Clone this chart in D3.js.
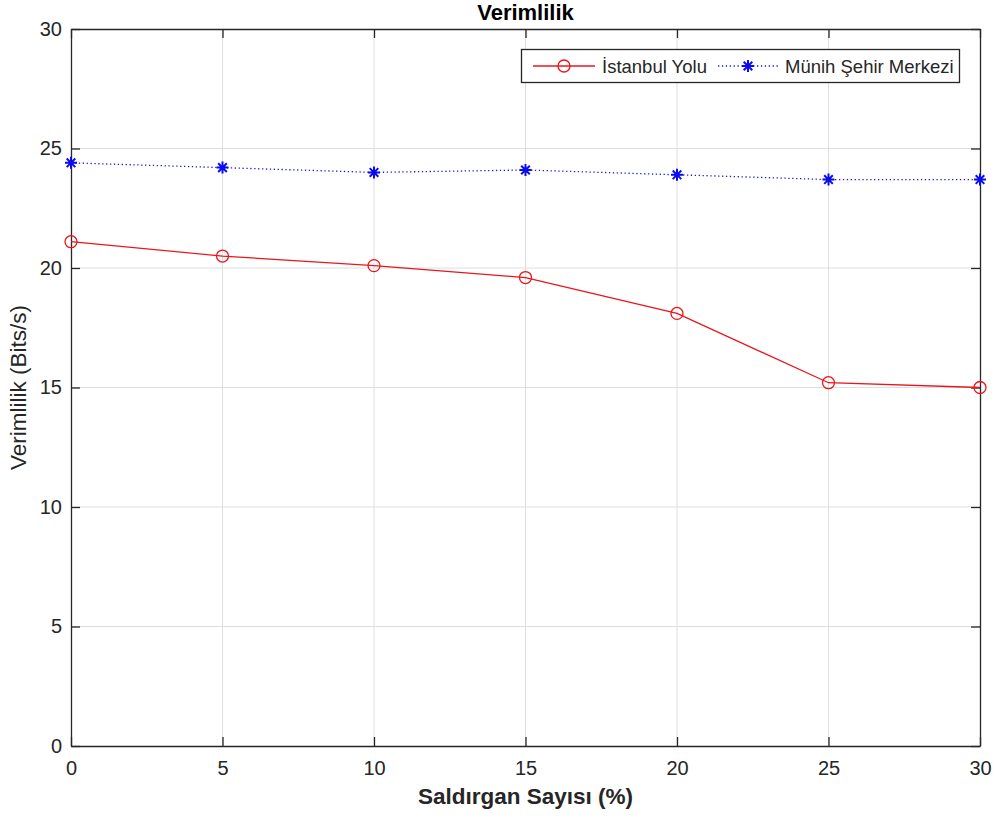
<!DOCTYPE html>
<html>
<head>
<meta charset="utf-8">
<script src="https://cdn.jsdelivr.net/npm/d3@7"></script>
<style>
  body { margin: 0; background: #fff; }
  svg { font-family: "Liberation Sans", Arial, sans-serif; }
</style>
</head>
<body>
<script>
// x values (Saldırgan Sayısı %)
const attackers = [0, 5, 10, 15, 20, 25, 30];
// series values
const istanbulYolu = [21.1, 20.5, 20.1, 19.6, 18.1, 15.2, 15.0];
const munihMerkez = [24.4, 24.2, 24.0, 24.1, 23.9, 23.7, 23.7];
const seriesNames = ["İstanbul Yolu", "Münih Şehir Merkezi"];
const xTicks = [0, 5, 10, 15, 20, 25, 30];
const yTicks = [0, 5, 10, 15, 20, 25, 30];

const width = 1000, height = 823;
const marginLeft = 71, marginRight = 20, marginTop = 29, marginBottom = 77;
const axisColor = "#262626";

const svg = d3.select("body").append("svg")
    .attr("width", width)
    .attr("height", height);

const x = d3.scaleLinear().domain([0, 30]).range([marginLeft, width - marginRight]);
const y = d3.scaleLinear().domain([0, 30]).range([height - marginBottom, marginTop]);

// grid
svg.append("g")
    .attr("stroke", "#dedede")
    .attr("stroke-width", 1)
    .selectAll("line")
    .data(xTicks.slice(1, -1))
    .join("line")
    .attr("x1", d => x(d)).attr("x2", d => x(d))
    .attr("y1", y(0)).attr("y2", y(30));
svg.append("g")
    .attr("stroke", "#dedede")
    .attr("stroke-width", 1)
    .selectAll("line")
    .data(yTicks.slice(1, -1))
    .join("line")
    .attr("y1", d => y(d)).attr("y2", d => y(d))
    .attr("x1", x(0)).attr("x2", x(30));

// axes with inward ticks (all four sides)
function styleAxis(g) {
    g.select(".domain").attr("stroke", axisColor).attr("stroke-width", 1.3);
    g.selectAll(".tick line").attr("stroke", axisColor).attr("stroke-width", 1.3);
    g.selectAll(".tick text").attr("fill", axisColor).attr("font-size", 20);
}
svg.append("g")
    .attr("transform", `translate(0,${y(0)})`)
    .call(d3.axisBottom(x).tickValues(xTicks).tickSize(-9).tickPadding(15).tickSizeOuter(0))
    .call(styleAxis);
svg.append("g")
    .attr("transform", `translate(0,${y(30)})`)
    .call(d3.axisTop(x).tickValues(xTicks).tickSize(-9).tickFormat("").tickSizeOuter(0))
    .call(styleAxis);
svg.append("g")
    .attr("transform", `translate(${x(0)},0)`)
    .call(d3.axisLeft(y).tickValues(yTicks).tickSize(-9).tickPadding(9).tickSizeOuter(0))
    .call(styleAxis);
svg.append("g")
    .attr("transform", `translate(${x(30)},0)`)
    .call(d3.axisRight(y).tickValues(yTicks).tickSize(-9).tickFormat("").tickSizeOuter(0))
    .call(styleAxis);

// lines
const line = d3.line().x((d, i) => x(attackers[i])).y(d => y(d));

svg.append("path")
    .datum(istanbulYolu)
    .attr("fill", "none")
    .attr("stroke", "#e8161b")
    .attr("stroke-width", 1.3)
    .attr("d", line);

svg.append("path")
    .datum(munihMerkez)
    .attr("fill", "none")
    .attr("stroke", "#1d1dc8")
    .attr("stroke-width", 1.3)
    .attr("stroke-dasharray", "1.3,2.6")
    .attr("d", line);

// markers
svg.append("g")
    .selectAll("circle")
    .data(istanbulYolu)
    .join("circle")
    .attr("cx", (d, i) => x(attackers[i]))
    .attr("cy", d => y(d))
    .attr("r", 6)
    .attr("fill", "none")
    .attr("stroke", "#e8161b")
    .attr("stroke-width", 1.3);

const star = "M0,-6V6M-6,0H6M-4.3,-4.3L4.3,4.3M-4.3,4.3L4.3,-4.3";
svg.append("g")
    .selectAll("path")
    .data(munihMerkez)
    .join("path")
    .attr("transform", (d, i) => `translate(${x(attackers[i])},${y(d)})`)
    .attr("d", star)
    .attr("stroke", "#0b0bf0")
    .attr("stroke-width", 2);

// legend
const lg = svg.append("g");
lg.append("rect")
    .attr("x", 521.5).attr("y", 49.5)
    .attr("width", 438).attr("height", 33)
    .attr("fill", "#fff")
    .attr("stroke", axisColor)
    .attr("stroke-width", 1.3);
const ly = 66;
lg.append("line").attr("x1", 533).attr("x2", 595).attr("y1", ly).attr("y2", ly)
    .attr("stroke", "#e8161b").attr("stroke-width", 1.3);
lg.append("circle").attr("cx", 564).attr("cy", ly).attr("r", 6)
    .attr("fill", "none").attr("stroke", "#e8161b").attr("stroke-width", 1.3);
lg.append("text").attr("x", 602).attr("y", ly + 7)
    .attr("font-size", 18.5).attr("fill", axisColor).text(seriesNames[0]);
lg.append("line").attr("x1", 718).attr("x2", 778).attr("y1", ly).attr("y2", ly)
    .attr("stroke", "#1d1dc8").attr("stroke-width", 1.3).attr("stroke-dasharray", "1.3,2.6");
lg.append("path").attr("transform", `translate(748,${ly})`).attr("d", star)
    .attr("stroke", "#0b0bf0").attr("stroke-width", 2);
lg.append("text").attr("x", 785).attr("y", ly + 7)
    .attr("font-size", 18.5).attr("fill", axisColor).text(seriesNames[1]);

// title and labels
svg.append("text")
    .attr("x", (x(0) + x(30)) / 2).attr("y", 20)
    .attr("text-anchor", "middle")
    .attr("font-size", 22).attr("font-weight", "bold").attr("fill", "#000")
    .text("Verimlilik");

svg.append("text")
    .attr("x", (x(0) + x(30)) / 2).attr("y", 804)
    .attr("text-anchor", "middle")
    .attr("font-size", 22.5).attr("font-weight", "bold").attr("fill", axisColor)
    .text("Saldırgan Sayısı (%)");

svg.append("text")
    .attr("transform", `translate(26,${(y(0) + y(30)) / 2}) rotate(-90)`)
    .attr("text-anchor", "middle")
    .attr("font-size", 22.5).attr("fill", axisColor)
    .text("Verimlilik (Bits/s)");
</script>
</body>
</html>
